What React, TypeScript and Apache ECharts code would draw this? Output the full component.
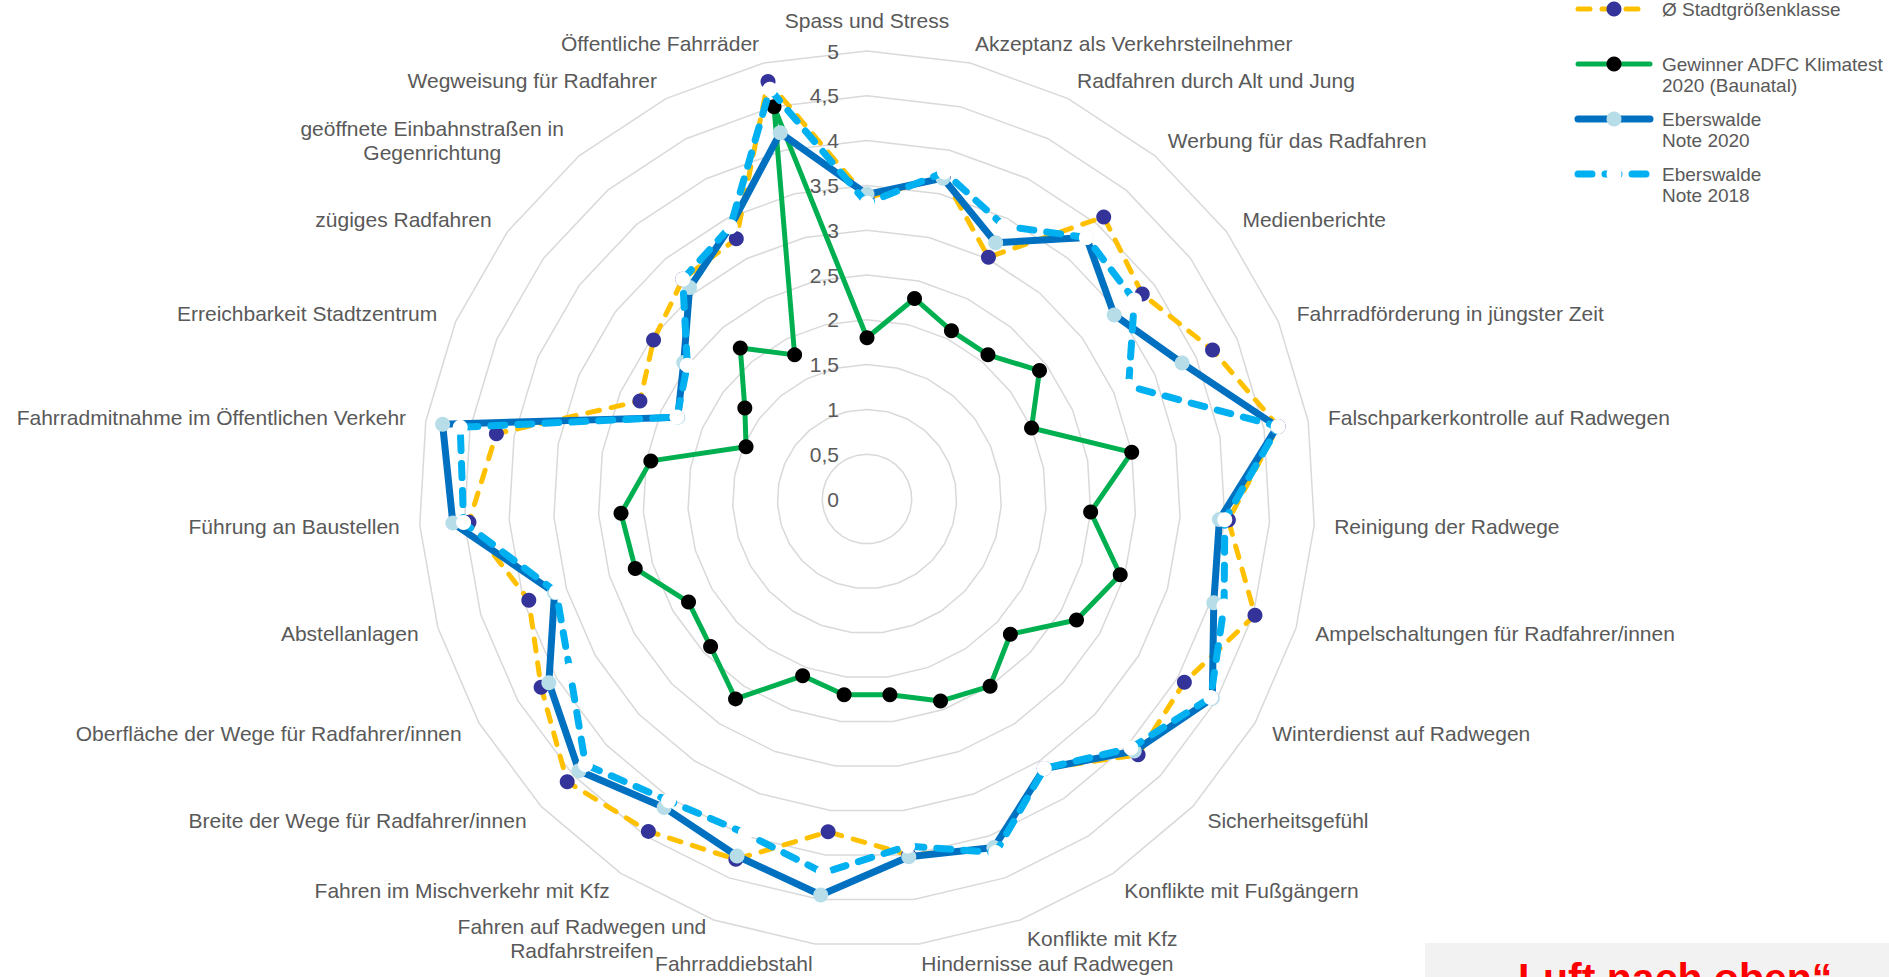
import React, { useEffect, useRef } from 'react';
import * as echarts from 'echarts';

const FONT = '"Liberation Sans", Arial, sans-serif';

// Indicators in clockwise order starting at the top
const categories = [
  'Spass und Stress',
  'Akzeptanz als Verkehrsteilnehmer',
  'Radfahren durch Alt und Jung',
  'Werbung für das Radfahren',
  'Medienberichte',
  'Fahrradförderung in jüngster Zeit',
  'Falschparkerkontrolle auf Radwegen',
  'Reinigung der Radwege',
  'Ampelschaltungen für Radfahrer/innen',
  'Winterdienst auf Radwegen',
  'Sicherheitsgefühl',
  'Konflikte mit Fußgängern',
  'Konflikte mit Kfz',
  'Hindernisse auf Radwegen',
  'Fahrraddiebstahl',
  'Fahren auf Radwegen und\nRadfahrstreifen',
  'Fahren im Mischverkehr mit Kfz',
  'Breite der Wege für Radfahrer/innen',
  'Oberfläche der Wege für Radfahrer/innen',
  'Abstellanlagen',
  'Führung an Baustellen',
  'Fahrradmitnahme im Öffentlichen Verkehr',
  'Erreichbarkeit Stadtzentrum',
  'zügiges Radfahren',
  'geöffnete Einbahnstraßen in\nGegenrichtung',
  'Wegweisung für Radfahrer',
  'Öffentliche Fahrräder',
];

const avgCitySize = [3.36, 3.7, 3.02, 4.11, 3.83, 4.2, 4.66, 4.04, 4.52, 4.09, 4.16, 3.6, 4.15, 4.0, 3.74, 4.28, 4.44, 4.6, 4.2, 3.94, 4.45, 4.2, 2.76, 2.97, 3.2, 3.25, 4.79];
const winnerBaunatal = [1.8, 2.3, 2.1, 2.1, 2.4, 2.0, 3.0, 2.5, 2.95, 2.7, 2.2, 2.5, 2.4, 2.2, 2.2, 2.1, 2.67, 2.4, 2.3, 2.7, 2.75, 2.45, 1.47, 1.7, 2.2, 1.8, 4.5];
const eberswalde2020 = [3.4, 3.68, 3.2, 3.81, 3.44, 3.83, 4.65, 3.94, 4.04, 4.45, 4.1, 3.6, 4.14, 4.02, 4.45, 4.24, 4.12, 4.42, 4.1, 3.64, 4.63, 4.81, 2.3, 2.55, 3.08, 3.4, 4.2];
const eberswalde2018 = [3.3, 3.75, 3.41, 3.81, 3.72, 3.18, 4.66, 4.0, 4.16, 4.43, 4.05, 3.6, 4.2, 3.9, 4.2, 3.97, 4.03, 4.32, 3.83, 3.62, 4.51, 4.61, 2.31, 2.5, 3.2, 3.4, 4.7];

const tickLabels = ['0', '0,5', '1', '1,5', '2', '2,5', '3', '3,5', '4', '4,5', '5'];

const seriesNames = [
  'Ø Stadtgrößenklasse',
  'Gewinner ADFC Klimatest\n2020 (Baunatal)',
  'Eberswalde\nNote 2020',
  'Eberswalde\nNote 2018',
];

const CX = 867;
const CY = 499;
const R = 448;

// ECharts lays radar indicators counter-clockwise; reorder so that the
// picture reads clockwise like the original.
const reorder = <T,>(arr: T[]): T[] => [arr[0], ...arr.slice(1).reverse()];

const styles = [
  { line: '#FFC000', width: 5, dash: [12, 12] as number[] | 'solid', marker: '#333399' },
  { line: '#00B050', width: 5, dash: 'solid' as number[] | 'solid', marker: '#000000' },
  { line: '#0070C0', width: 7, dash: 'solid' as number[] | 'solid', marker: '#B7DEE8' },
  { line: '#00B0F0', width: 7, dash: [14, 13] as number[] | 'solid', marker: '#FFFFFF' },
];

const richName = {
  a: { width: 250, align: 'center', fontSize: 21, fontFamily: FONT, color: '#595959', lineHeight: 24 },
  b: { width: 268, align: 'center', fontSize: 21, fontFamily: FONT, color: '#595959', lineHeight: 24 },
};

function App() {
  const ref = useRef<HTMLDivElement>(null);

  useEffect(() => {
    if (!ref.current) return;
    const chart = echarts.init(ref.current, undefined, { renderer: 'svg' });

    const values = [avgCitySize, winnerBaunatal, eberswalde2020, eberswalde2018];

    const legendY = [9, 64, 119, 174];
    const LX0 = 1578;
    const LX1 = 1650;
    const legendGraphics: any[] = [];
    seriesNames.forEach((name, i) => {
      const s = styles[i];
      const y = legendY[i];
      legendGraphics.push({
        type: 'line',
        shape: { x1: LX0, y1: y, x2: LX1, y2: y },
        style: {
          stroke: s.line,
          lineWidth: s.width,
          lineDash: s.dash === 'solid' ? null : s.dash,
          lineCap: 'round',
        },
      });
      legendGraphics.push({
        type: 'circle',
        shape: { cx: (LX0 + LX1) / 2, cy: y, r: 7.5 },
        style: { fill: s.marker },
      });
      legendGraphics.push({
        type: 'text',
        x: 1662,
        y: y - 10.5,
        style: {
          text: name,
          fill: '#595959',
          fontSize: 19,
          fontFamily: FONT,
          lineHeight: 21,
          verticalAlign: 'top',
          align: 'left',
        },
      });
    });

    const option: any = {
      animation: false,
      backgroundColor: '#ffffff',
      radar: {
        center: [CX, CY],
        radius: R,
        startAngle: 90,
        shape: 'polygon',
        splitNumber: 10,
        nameGap: 20,
        indicator: reorder(categories).map((n) => ({ name: n, min: 0, max: 5 })),
        axisName: {
          color: '#595959',
          fontSize: 21,
          fontFamily: FONT,
          formatter: (name: string) => {
            if (!name.includes('\n')) return name;
            const key = name.startsWith('geöffnete') ? 'b' : 'a';
            return name
              .split('\n')
              .map((l) => `{${key}|${l}}`)
              .join('\n');
          },
          rich: richName,
        },
        axisLine: { show: false },
        axisTick: { show: false },
        axisLabel: { show: false },
        splitArea: { show: false },
        splitLine: { lineStyle: { color: '#D9D9D9', width: 1.5 } },
      },
      grid: { left: CX, top: CY - R, width: 1, height: R, containLabel: false },
      xAxis: { type: 'value', show: false, min: 0, max: 1 },
      yAxis: {
        type: 'value',
        min: 0,
        max: 5,
        interval: 0.5,
        axisLine: { show: false },
        axisTick: { show: false },
        splitLine: { show: false },
        axisLabel: {
          margin: 28,
          color: '#595959',
          fontSize: 21,
          fontFamily: FONT,
          formatter: (v: number) => tickLabels[Math.round(v * 2)] ?? '',
        },
      },
      series: [
        ...values.map((vals, i) => ({
          type: 'radar',
          name: seriesNames[i],
          symbol: 'circle',
          symbolSize: 15,
          z: 2 + i,
          lineStyle: {
            color: styles[i].line,
            width: styles[i].width,
            type: styles[i].dash,
            cap: 'round',
            join: 'round',
          },
          itemStyle: { color: styles[i].marker, borderWidth: 0 },
          data: [{ value: reorder(vals), name: seriesNames[i] }],
        })),
        { type: 'line', xAxisIndex: 0, yAxisIndex: 0, data: [], silent: true },
      ],
      graphic: [
        ...legendGraphics,
        {
          type: 'rect',
          shape: { x: 1425, y: 943, width: 464, height: 40 },
          style: { fill: '#F2F2F2' },
        },
        {
          type: 'text',
          x: 1518,
          y: 957,
          style: {
            text: 'Luft nach oben“',
            fill: '#FF0000',
            fontSize: 41,
            fontWeight: 'bold',
            fontFamily: FONT,
            verticalAlign: 'top',
          },
        },
      ],
    };

    chart.setOption(option);
    return () => chart.dispose();
  }, []);

  return (
    <div
      ref={ref}
      style={{ position: 'fixed', left: 0, top: 0, width: '1889px', height: '977px', background: '#fff' }}
    />
  );
}

export default App;
